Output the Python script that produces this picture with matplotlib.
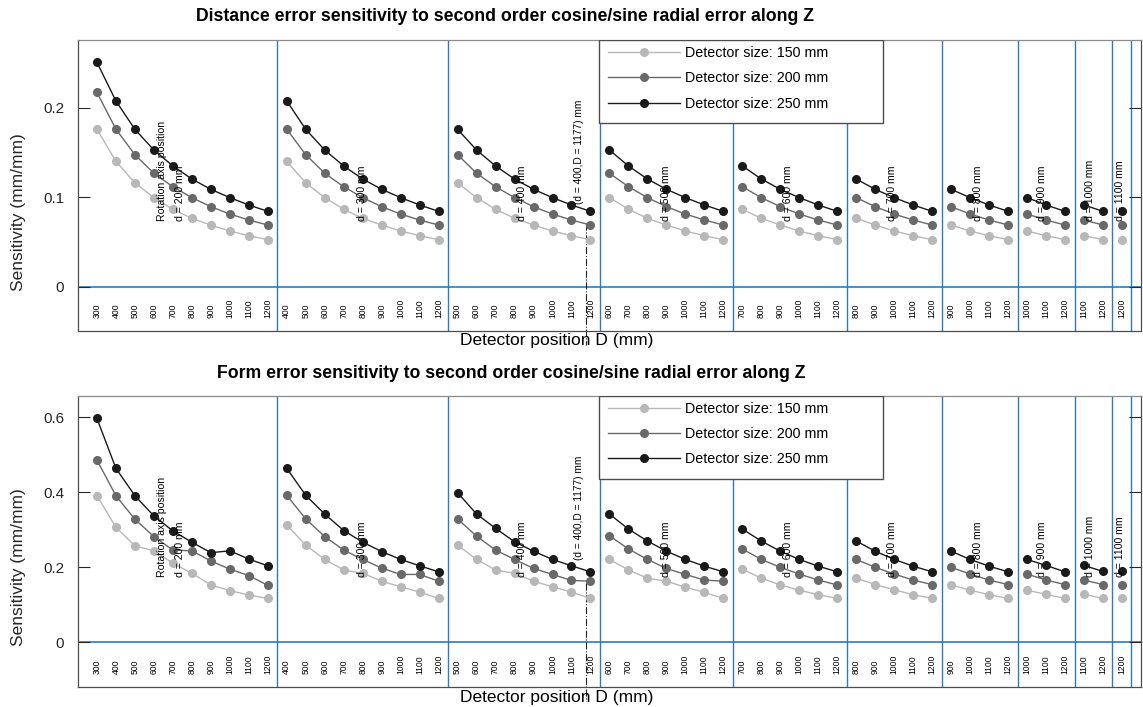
import matplotlib
matplotlib.use('Agg')
import matplotlib.pyplot as plt
from matplotlib.patches import Rectangle
from matplotlib.transforms import blended_transform_factory

plt.rcParams['font.family'] = ['Liberation Sans', 'DejaVu Sans']

# rotation axis positions d and detector positions D (mm)
d_values = [200, 300, 400, 500, 600, 700, 800, 900, 1000, 1100]
D_values = [300, 400, 500, 600, 700, 800, 900, 1000, 1100, 1200]
size_labels = ['Detector size: 150 mm', 'Detector size: 200 mm', 'Detector size: 250 mm']

# distance error sensitivity vs D (identical for every d)
dist_150 = [0.176, 0.140, 0.116, 0.0995, 0.0865, 0.0764, 0.0689, 0.0622, 0.0570, 0.0525]
dist_200 = [0.217, 0.176, 0.1475, 0.1267, 0.1117, 0.0995, 0.0894, 0.0812, 0.0745, 0.0689]
dist_250 = [0.2507, 0.2075, 0.1758, 0.1527, 0.1349, 0.1203, 0.1088, 0.0995, 0.0913, 0.0842]

# form error sensitivity, one list per d
form_150 = [
    [0.391, 0.307, 0.257, 0.244, 0.211, 0.184, 0.153, 0.138, 0.126, 0.117],
    [0.313, 0.259, 0.221, 0.193, 0.184, 0.163, 0.148, 0.134, 0.117],
    [0.259, 0.221, 0.193, 0.184, 0.163, 0.148, 0.134, 0.117],
    [0.221, 0.193, 0.171, 0.163, 0.147, 0.133, 0.117],
    [0.195, 0.171, 0.153, 0.139, 0.127, 0.117],
    [0.171, 0.154, 0.140, 0.127, 0.117],
    [0.153, 0.139, 0.127, 0.117],
    [0.139, 0.128, 0.117],
    [0.128, 0.117],
    [0.117],
]
form_200 = [
    [0.486, 0.391, 0.328, 0.282, 0.246, 0.244, 0.217, 0.195, 0.178, 0.152],
    [0.392, 0.329, 0.282, 0.246, 0.221, 0.198, 0.181, 0.181, 0.163],
    [0.329, 0.283, 0.246, 0.221, 0.197, 0.181, 0.165, 0.163],
    [0.284, 0.249, 0.221, 0.197, 0.181, 0.166, 0.163],
    [0.249, 0.221, 0.200, 0.182, 0.166, 0.153],
    [0.221, 0.200, 0.182, 0.166, 0.154],
    [0.200, 0.182, 0.166, 0.154],
    [0.182, 0.166, 0.154],
    [0.166, 0.154],
    [0.154],
]
form_250 = [
    [0.597, 0.464, 0.391, 0.337, 0.297, 0.267, 0.239, 0.244, 0.222, 0.204],
    [0.464, 0.392, 0.342, 0.298, 0.267, 0.242, 0.221, 0.204, 0.188],
    [0.399, 0.342, 0.304, 0.268, 0.243, 0.221, 0.204, 0.188],
    [0.342, 0.302, 0.270, 0.243, 0.221, 0.203, 0.188],
    [0.302, 0.270, 0.243, 0.221, 0.203, 0.188],
    [0.270, 0.243, 0.221, 0.203, 0.188],
    [0.243, 0.221, 0.203, 0.188],
    [0.221, 0.205, 0.188],
    [0.205, 0.189],
    [0.189],
]

# marked configuration (d = 400, D = 1177) and where its marker line starts
mark_d, mark_D = 400, 1177
mark_top = [0.071, 0.158]

# x offsets (in point spacing) of the d labels inside each group
label_offset = [4.4, 3.98, 3.4, 3.0, 2.4, 1.9, 1.4, 0.8, 0.3, -0.1]

colors = ['#b8b8b8', '#696969', '#1a1a1a']
blue = '#2a7bc4'


def dist_groups(vals):
    return [vals[-len([D for D in D_values if D > d]):] for d in d_values]


def draw_panel(ax, series, ylim, yticks, ytlabels, mark_y0):
    trans = blended_transform_factory(ax.transData, ax.transAxes)
    ax.axhline(0, color=blue, lw=1.2, zorder=1)
    pos = 0
    for gi, d in enumerate(d_values):
        Ds = [D for D in D_values if D > d]
        xs = list(range(pos, pos + len(Ds)))
        for si in range(3):
            ax.plot(xs, series[si][gi], '-o', color=colors[si], lw=1.0, ms=5.5,
                    label=size_labels[si] if gi == 0 else None, zorder=3)
        for x, D in zip(xs, Ds):
            ax.text(x, 0.045, str(D), transform=trans, rotation=90, ha='center',
                    va='bottom', fontsize=6.2)
        lx = pos + label_offset[gi]
        if gi == 0:
            ax.text(lx - 0.97, 0.378, 'Rotation axis position', transform=trans,
                    rotation=90, ha='center', va='bottom', fontsize=7.6)
        ax.text(lx, 0.378, 'd = %d mm' % d, transform=trans, rotation=90,
                ha='center', va='bottom', fontsize=7.6)
        if d == mark_d:
            mx = pos + (mark_D - Ds[0]) / 100.0
            ax.plot([mx, mx], [mark_y0, ylim[0] - 0.05 * (ylim[1] - ylim[0])],
                    ls='-.', color='#222222', lw=0.8, clip_on=False, zorder=2)
            ax.text(mx - 0.37, 0.435, '(d = %d,D = %d) mm' % (mark_d, mark_D),
                    transform=trans, rotation=90, ha='center', va='bottom', fontsize=7.3)
        pos += len(Ds)
        ax.axvline(pos - 0.5, color=blue, lw=1.0, zorder=1)

    ax.set_xlim(-1, pos)
    ax.set_ylim(*ylim)
    ax.set_xticks([])
    ax.set_yticks(yticks)
    ax.set_yticklabels(ytlabels)
    ax.tick_params(axis='y', direction='in', length=8.5, width=0.8, right=True,
                   labelsize=11, pad=10, colors='#262626')
    for s in ax.spines.values():
        s.set_color('#4d4d4d')
        s.set_linewidth(0.9)
    ax.spines['top'].set_color('#8c8c8c')

    # legend with a wide frame
    ax.add_patch(Rectangle((0.490, 0.714), 0.267, 0.286, transform=ax.transAxes,
                           facecolor='white', edgecolor='#4d4d4d', lw=1.0, zorder=5))
    leg = ax.legend(loc='upper left', bbox_to_anchor=(0.494, 0.997), frameon=False,
                    fontsize=10.3, handlelength=5.0, handletextpad=0.35,
                    labelspacing=0.8, borderpad=0.35, borderaxespad=0.0)
    leg.set_zorder(6)


fig = plt.figure(figsize=(11.43, 7.07), dpi=100)
ax1 = fig.add_axes([0.0682, 0.5322, 0.9300, 0.4112])
ax2 = fig.add_axes([0.0682, 0.0287, 0.9300, 0.4116])

draw_panel(ax1, [dist_groups(dist_150), dist_groups(dist_200), dist_groups(dist_250)],
           (-0.0492, 0.2756), [0, 0.1, 0.2], ['0', '0.1', '0.2'], mark_top[0])
draw_panel(ax2, [form_150, form_200, form_250],
           (-0.1184, 0.6576), [0, 0.2, 0.4, 0.6], ['0', '0.2', '0.4', '0.6'], mark_top[1])

fig.text(0.442, 0.977, 'Distance error sensitivity to second order cosine/sine radial error along Z',
         ha='center', va='center', fontsize=12.7, fontweight='bold')
fig.text(0.447, 0.4724, 'Form error sensitivity to second order cosine/sine radial error along Z',
         ha='center', va='center', fontsize=12.7, fontweight='bold')

for y in (0.700, 0.198):
    fig.text(0.016, y, 'Sensitivity (mm/mm)', rotation=90, ha='center', va='center',
             fontsize=12.5, color='#262626')
for y in (0.519, 0.013):
    fig.text(0.487, y, 'Detector position D (mm)', ha='center', va='center',
             fontsize=12.5)

fig.savefig('out.png', dpi=100)
